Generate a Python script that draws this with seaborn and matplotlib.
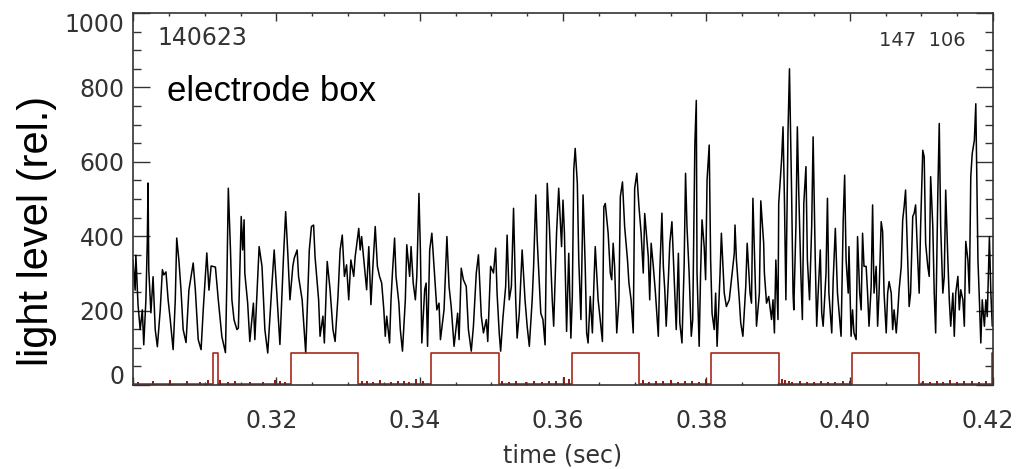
import matplotlib
matplotlib.use("Agg")
import matplotlib.pyplot as plt
import matplotlib.transforms as mtransforms
from matplotlib.ticker import MultipleLocator
import pandas as pd
import seaborn as sns

# ---------------------------------------------------------------- data
# photodiode light level (relative units) versus time (s)
light_t = [
    0.3000, 0.3003, 0.3004, 0.3007, 0.3010, 0.3013, 0.3015, 0.3018, 0.3020, 0.3021,
    0.3022, 0.3025, 0.3028, 0.3031, 0.3034, 0.3038, 0.3041, 0.3043, 0.3046, 0.3049,
    0.3052, 0.3056, 0.3059, 0.3061, 0.3064, 0.3067, 0.3070, 0.3074, 0.3078, 0.3084,
    0.3087, 0.3091, 0.3095, 0.3098, 0.3103, 0.3106, 0.3109, 0.3115, 0.3119, 0.3124,
    0.3129, 0.3131, 0.3133, 0.3136, 0.3138, 0.3141, 0.3145,
    0.3147, 0.3151, 0.3153, 0.3155, 0.3156, 0.3160, 0.3163, 0.3168, 0.3170, 0.3176,
    0.3180, 0.3184, 0.3188, 0.3194, 0.3197, 0.3201, 0.3205, 0.3210, 0.3213, 0.3216,
    0.3219, 0.3223, 0.3225, 0.3229, 0.3231, 0.3236, 0.3241, 0.3246, 0.3249, 0.3252,
    0.3254, 0.3259, 0.3261, 0.3265, 0.3267, 0.3271, 0.3275, 0.3279, 0.3282, 0.3286,
    0.3289,
    0.3292, 0.3295, 0.3298, 0.3301, 0.3304, 0.3308, 0.3310, 0.3315, 0.3317, 0.3319,
    0.3323, 0.3326, 0.3329, 0.3332, 0.3335, 0.3338, 0.3341, 0.3344, 0.3347, 0.3350,
    0.3352, 0.3354, 0.3358, 0.3360, 0.3362, 0.3365, 0.3367, 0.3371, 0.3373, 0.3376,
    0.3380, 0.3382, 0.3386, 0.3388, 0.3391, 0.3394, 0.3396, 0.3399, 0.3401, 0.3403,
    0.3407, 0.3409, 0.3411, 0.3414, 0.3417, 0.3421, 0.3424, 0.3427, 0.3429, 0.3434,
    0.3438,
    0.3441, 0.3444, 0.3448, 0.3451, 0.3453, 0.3455, 0.3458, 0.3461, 0.3465, 0.3468,
    0.3472, 0.3475, 0.3479, 0.3482, 0.3486, 0.3489, 0.3493, 0.3495, 0.3499, 0.3503,
    0.3506, 0.3508, 0.3511, 0.3513, 0.3516, 0.3520, 0.3522, 0.3525, 0.3528, 0.3531,
    0.3534, 0.3536, 0.3539, 0.3543, 0.3547, 0.3550, 0.3553, 0.3557, 0.3559, 0.3562,
    0.3564, 0.3569, 0.3572, 0.3575, 0.3578, 0.3581,
    0.3585, 0.3587, 0.3591, 0.3594, 0.3598, 0.3600, 0.3602, 0.3605, 0.3608, 0.3611,
    0.3613, 0.3615, 0.3617, 0.3620, 0.3622, 0.3625, 0.3628, 0.3631, 0.3633, 0.3635,
    0.3638, 0.3641, 0.3643, 0.3645, 0.3649, 0.3651, 0.3655, 0.3657, 0.3659, 0.3663,
    0.3666, 0.3668, 0.3670, 0.3672, 0.3675, 0.3678, 0.3680, 0.3683, 0.3686, 0.3690,
    0.3692, 0.3695, 0.3698, 0.3700, 0.3703, 0.3706, 0.3709, 0.3712, 0.3714, 0.3717,
    0.3719, 0.3721, 0.3723, 0.3726, 0.3729,
    0.3733, 0.3735, 0.3738, 0.3740, 0.3742, 0.3744, 0.3747, 0.3749, 0.3752, 0.3755,
    0.3758, 0.3761, 0.3763, 0.3766, 0.3769, 0.3771, 0.3773, 0.3776, 0.3779, 0.3781,
    0.3784, 0.3786, 0.3787, 0.3790, 0.3792, 0.3794, 0.3797, 0.3799, 0.3801, 0.3804,
    0.3806, 0.3808, 0.3811, 0.3813, 0.3815, 0.3819, 0.3821, 0.3825, 0.3828, 0.3832,
    0.3835, 0.3839, 0.3840, 0.3842, 0.3846, 0.3848, 0.3851, 0.3855, 0.3857, 0.3861,
    0.3863, 0.3865, 0.3868, 0.3870, 0.3874,
    0.3876, 0.3880, 0.3881, 0.3884, 0.3887, 0.3891, 0.3893, 0.3895, 0.3897, 0.3900,
    0.3901, 0.3905, 0.3907, 0.3909, 0.3911, 0.3914, 0.3916, 0.3919, 0.3921, 0.3922,
    0.3925, 0.3927, 0.3929, 0.3932, 0.3934, 0.3936, 0.3939, 0.3941, 0.3944, 0.3947,
    0.3949, 0.3952, 0.3954, 0.3956, 0.3959, 0.3961, 0.3963, 0.3967, 0.3969, 0.3971,
    0.3975, 0.3977, 0.3980, 0.3983, 0.3986, 0.3988, 0.3991, 0.3993, 0.3995, 0.3998,
    0.3999, 0.4002, 0.4004, 0.4006, 0.4009, 0.4011, 0.4014, 0.4016, 0.4018, 0.4020,
    0.4023, 0.4025, 0.4027, 0.4030, 0.4032, 0.4034, 0.4037, 0.4039, 0.4041, 0.4044,
    0.4046, 0.4048, 0.4051, 0.4053, 0.4055, 0.4058, 0.4060, 0.4062, 0.4065, 0.4067,
    0.4069, 0.4072, 0.4074, 0.4076, 0.4078, 0.4081, 0.4083, 0.4085, 0.4088, 0.4090,
    0.4092, 0.4095, 0.4097, 0.4099, 0.4102, 0.4104, 0.4106, 0.4109, 0.4111, 0.4113,
    0.4116, 0.4118, 0.4120, 0.4123, 0.4125, 0.4127, 0.4130, 0.4132, 0.4134, 0.4137,
    0.4139, 0.4141, 0.4144, 0.4146, 0.4148, 0.4151, 0.4153, 0.4155, 0.4158, 0.4160,
    0.4162, 0.4165, 0.4167, 0.4169, 0.4171, 0.4174, 0.4176, 0.4179, 0.4181, 0.4183,
    0.4185, 0.4188, 0.4190, 0.4192, 0.4195, 0.4197, 0.4199,
]
light_v = [
    336, 255, 349, 216, 149, 202, 108, 229, 390, 543,
    310, 194, 291, 149, 103, 202, 310, 296, 304, 229,
    175, 95, 229, 395, 336, 255, 149, 114, 255, 328,
    255, 122, 95, 202, 355, 255, 320, 317, 229, 130,
    87, 282, 529, 363, 229, 175, 149,
    153, 453, 363, 444, 301, 220, 117, 220, 122, 372,
    319, 149, 86, 274, 363, 238, 109, 345, 466, 354,
    229, 319, 341, 363, 292, 229, 86, 363, 426, 430,
    345, 229, 131, 185, 113, 332, 256, 149, 117, 238,
    363,
    403, 292, 323, 229, 336, 292, 345, 421, 363, 399,
    319, 256, 372, 216, 328, 426, 319, 292, 274, 202,
    131, 185, 113, 229, 301, 395, 292, 220, 149, 91,
    229, 377, 292, 372, 274, 229, 292, 515, 363, 113,
    256, 274, 104, 363, 408, 292, 202, 220, 122, 202,
    399,
    265, 211, 104, 158, 193, 122, 314, 283, 265, 149,
    91, 158, 301, 350, 185, 140, 176, 117, 319, 301,
    368, 247, 140, 91, 176, 265, 403, 229, 265, 475,
    229, 126, 193, 363, 229, 158, 104, 229, 319, 511,
    390, 193, 176, 108, 542, 426,
    229, 158, 408, 529, 372, 497, 408, 144, 354, 126,
    238, 578, 636, 542, 336, 176, 511, 319, 140, 113,
    238, 140, 265, 372, 229, 193, 117, 479, 488, 408,
    301, 283, 381, 319, 140, 229, 506, 546, 426, 336,
    274, 229, 140, 529, 569, 479, 408, 301, 461, 390,
    345, 229, 381, 319, 247,
    131, 301, 462, 319, 256, 158, 283, 381, 439, 292,
    149, 354, 167, 113, 319, 569, 426, 301, 131, 176,
    649, 765, 301, 104, 301, 444, 372, 283, 551, 645,
    336, 193, 149, 247, 104, 292, 408, 247, 211, 229,
    283, 354, 430, 336, 229, 167, 131, 265, 381, 247,
    220, 502, 292, 158, 247,
    495, 381, 301, 220, 238, 176, 229, 140, 336, 176,
    488, 605, 694, 497, 229, 685, 850, 515, 247, 202,
    426, 694, 515, 292, 176, 488, 587, 336, 229, 426,
    667, 336, 158, 247, 363, 193, 158, 301, 502, 247,
    140, 283, 421, 247, 176, 131, 444, 564, 336, 247,
    372, 131, 202, 140, 122, 399, 247, 202, 408, 319,
    319, 247, 158, 265, 484, 247, 319, 158, 247, 439,
    412, 247, 140, 247, 278, 247, 149, 202, 140, 193,
    256, 319, 444, 479, 524, 336, 211, 247, 453, 462,
    484, 336, 247, 426, 631, 613, 381, 319, 292, 560,
    426, 247, 140, 515, 703, 426, 247, 292, 524, 336,
    229, 158, 247, 131, 247, 292, 202, 256, 229, 158,
    386, 336, 247, 560, 622, 658, 756, 336, 229, 113,
    229, 158, 229, 184, 399, 247, 158,
]

# electrode drive signal: on/off switching times (s) and levels
drive_on = [0.3111, 0.3220, 0.3416, 0.3613, 0.3807, 0.4003, 0.4199]
drive_off = [0.3118, 0.3314, 0.3510, 0.3706, 0.3902, 0.4097, 0.4200]
drive_high = 85
drive_low = 2

# pickup spikes on the drive baseline
spike_t = [
    0.3007, 0.3028, 0.3052, 0.3075, 0.3094, 0.3105, 0.3122, 0.3133, 0.3142, 0.3163,
    0.3182, 0.3198, 0.3205, 0.3212,
    0.3320, 0.3326, 0.3335, 0.3345, 0.3360, 0.3370, 0.3378, 0.3385, 0.3395, 0.3405,
    0.3515, 0.3525, 0.3535, 0.3548, 0.3560, 0.3570, 0.3580, 0.3590, 0.3601, 0.3608,
    0.3712, 0.3720, 0.3730, 0.3740, 0.3750, 0.3760, 0.3770, 0.3780, 0.3790, 0.3800,
    0.3905, 0.3910, 0.3915, 0.3920, 0.3930, 0.3940, 0.3950, 0.3960, 0.3970, 0.3980,
    0.3990, 0.4000,
    0.4103, 0.4112, 0.4122, 0.4130, 0.4140, 0.4150, 0.4160, 0.4170, 0.4180, 0.4190,
]
spike_h = [
    8, 11, 14, 10, 9, 13, 13, 9, 10, 8,
    9, 13, 10, 9,
    12, 10, 9, 14, 9, 11, 10, 9, 16, 12,
    11, 9, 10, 9, 12, 9, 10, 11, 22, 16,
    14, 9, 10, 11, 13, 9, 10, 12, 9, 16,
    16, 13, 11, 9, 10, 8, 9, 10, 8, 9,
    10, 11,
    10, 9, 10, 9, 13, 9, 10, 11, 9, 10,
]

x_ticks = [0.30, 0.32, 0.34, 0.36, 0.38, 0.40, 0.42]
x_tick_labels = ["", "0.32", "0.34", "0.36", "0.38", "0.40", "0.42"]
y_ticks = [0, 200, 400, 600, 800, 1000]
y_tick_labels = ["0", "200", "400", "600", "800", "1000"]

# ---------------------------------------------------------------- style
sns.set_style("ticks")
plt.rcParams["font.family"] = ["DejaVu Sans"]

TICK_COLOR = "#333333"
DRIVE_COLOR = "#a8281c"

fig = plt.figure(figsize=(10.22, 4.69), dpi=100)
ax = fig.add_axes([133 / 1022, 84 / 469, 860 / 1022, 372 / 469])

light = pd.DataFrame({"time": light_t, "level": light_v})
sns.lineplot(data=light, x="time", y="level", ax=ax, color="black",
             linewidth=1.1, estimator=None, sort=False, legend=False)

# square-wave drive trace built from the switching times
drive_t = [0.30]
drive_v = [drive_low]
for t_on, t_off in zip(drive_on, drive_off):
    drive_t += [t_on, t_on, t_off, t_off]
    drive_v += [drive_low, drive_high, drive_high, drive_low]
drive = pd.DataFrame({"time": drive_t, "level": drive_v})
sns.lineplot(data=drive, x="time", y="level", ax=ax, color=DRIVE_COLOR,
             linewidth=1.2, estimator=None, sort=False, legend=False)
ax.vlines(spike_t, 0, spike_h, color="#8e1a10", linewidth=1.4)

ax.set_xlim(0.30, 0.42)
ax.set_ylim(0, 1000)

ax.set_xticks(x_ticks)
ax.set_xticklabels(x_tick_labels)
ax.xaxis.set_minor_locator(MultipleLocator(0.005))
ax.set_yticks(y_ticks)
ax.set_yticklabels(y_tick_labels)
ax.yaxis.set_minor_locator(MultipleLocator(50))

ax.tick_params(which="both", direction="in", top=True, right=True,
               color=TICK_COLOR, labelcolor=TICK_COLOR, labelsize=17)
ax.tick_params(axis="y", which="major", length=12, width=1.0, pad=6)
ax.tick_params(axis="y", which="minor", length=5.5, width=1.0)
ax.tick_params(axis="x", which="major", length=5.5, width=1.0, pad=17)
ax.tick_params(axis="x", which="minor", length=2.5, width=1.0)

for spine in ax.spines.values():
    spine.set_color(TICK_COLOR)
    spine.set_linewidth(1.2)

# end labels of the value axis sit inside the frame
ylabels = ax.get_yticklabels()
ylabels[0].set_verticalalignment("bottom")
ylabels[-1].set_verticalalignment("top")
ylabels[0].set_transform(ylabels[0].get_transform()
                         + mtransforms.ScaledTranslation(0, -0.04, fig.dpi_scale_trans))
shift_x = mtransforms.ScaledTranslation(-0.05, 0, fig.dpi_scale_trans)
for lab in ax.get_xticklabels():
    lab.set_transform(lab.get_transform() + shift_x)

ax.set_xlabel("time (sec)", fontsize=17, color=TICK_COLOR, labelpad=8)
ax.set_ylabel("")
fig.text(37 / 1022, 1 - 231 / 469, "light level (rel.)", rotation=90,
         ha="center", va="center", fontsize=30, family="Liberation Sans",
         color="black")

ax.text(0.028, 0.933, "140623", transform=ax.transAxes, fontsize=17,
        color=TICK_COLOR, ha="left", va="center")
ax.text(0.9686, 0.927, "147  106", transform=ax.transAxes, fontsize=14,
        color=TICK_COLOR, ha="right", va="center")
ax.text(0.0395, 0.7645, "electrode box", transform=ax.transAxes, fontsize=25,
        family="Liberation Sans", color="black", ha="left", va="baseline")

fig.savefig("out.png", dpi=100)
